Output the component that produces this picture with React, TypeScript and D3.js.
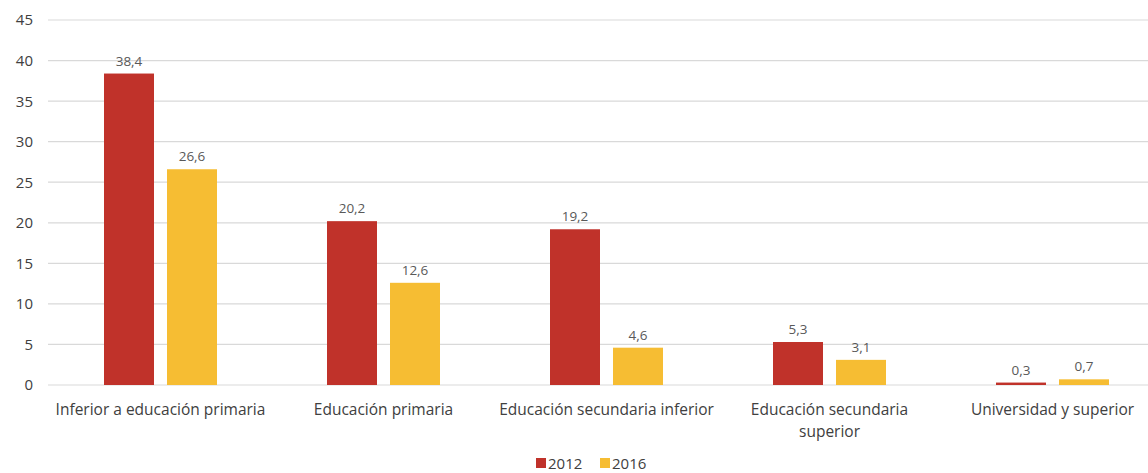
import * as d3 from "d3";
import React, { useEffect, useRef } from "react";

const categories = [
  "Inferior a educación primaria",
  "Educación primaria",
  "Educación secundaria inferior",
  "Educación secundaria superior",
  "Universidad y superior",
];
const seriesNames = ["2012", "2016"];
const values2012 = [38.4, 20.2, 19.2, 5.3, 0.3];
const values2016 = [26.6, 12.6, 4.6, 3.1, 0.7];
const yTicks = [0, 5, 10, 15, 20, 25, 30, 35, 40, 45];
const colors = ["#C0322A", "#F6BD33"];

const W = 1148;
const H = 473;
const FONT = "'Open Sans', 'Liberation Sans', sans-serif";

const App: React.FC = () => {
  const ref = useRef<SVGSVGElement>(null);

  useEffect(() => {
    const svg = d3.select(ref.current);
    svg.selectAll("*").remove();

    const x0 = d3.scaleBand().domain(categories).range([49, 1164]).padding(0);
    const x1 = d3.scaleBand().domain(seriesNames).range([55, 168]).paddingInner(0.2063).paddingOuter(0);
    const y = d3.scaleLinear().domain([0, 45]).range([385, 20]);

    // gridlines
    svg
      .append("g")
      .selectAll("line")
      .data(yTicks)
      .join("line")
      .attr("x1", 48)
      .attr("x2", W)
      .attr("y1", (d) => y(d))
      .attr("y2", (d) => y(d))
      .attr("stroke", "#d9d9d9")
      .attr("stroke-width", 1.2);

    // y labels
    svg
      .append("g")
      .selectAll("text")
      .data(yTicks)
      .join("text")
      .attr("x", 33)
      .attr("y", (d) => y(d))
      .attr("dy", "0.36em")
      .attr("text-anchor", "end")
      .attr("font-family", FONT)
      .attr("font-size", 15)
      .attr("fill", "#404040")
      .text((d) => d);

    const rows = categories.map((c, i) => ({ cat: c, vals: [values2012[i], values2016[i]] }));

    const groups = svg
      .append("g")
      .selectAll("g")
      .data(rows)
      .join("g")
      .attr("transform", (d) => `translate(${x0(d.cat)},0)`);

    groups
      .selectAll("rect")
      .data((d) => d.vals.map((v, j) => ({ v, s: seriesNames[j], j })))
      .join("rect")
      .attr("x", (d) => x1(d.s)!)
      .attr("width", x1.bandwidth())
      .attr("y", (d) => y(d.v))
      .attr("height", (d) => y(0) - y(d.v))
      .attr("fill", (d) => colors[d.j]);

    groups
      .selectAll("text.val")
      .data((d) => d.vals.map((v, j) => ({ v, s: seriesNames[j] })))
      .join("text")
      .attr("class", "val")
      .attr("x", (d) => x1(d.s)! + x1.bandwidth() / 2)
      .attr("y", (d) => y(d.v) - 8)
      .attr("text-anchor", "middle")
      .attr("font-family", FONT)
      .attr("font-size", 13.5)
      .attr("fill", "#595959")
      .text((d) => d3.format(".1f")(d.v).replace(".", ","));

    // category labels
    const catLines: Record<string, string[]> = {
      "Educación secundaria superior": ["Educación secundaria", "superior"],
    };
    svg
      .append("g")
      .selectAll("text")
      .data(categories)
      .join("text")
      .attr("x", (d) => x0(d)! + x0.bandwidth() / 2)
      .attr("y", 415)
      .attr("text-anchor", "middle")
      .attr("font-family", FONT)
      .attr("font-size", 15.5)
      .attr("fill", "#404040")
      .each(function (d) {
        const lines = catLines[d] || [d];
        const t = d3.select(this);
        lines.forEach((l, i) => {
          t.append("tspan")
            .attr("x", x0(d)! + x0.bandwidth() / 2)
            .attr("dy", i === 0 ? 0 : 22)
            .text(l);
        });
      });

    // legend
    const legend = svg.append("g");
    const legendX = [536, 600];
    seriesNames.forEach((s, i) => {
      legend
        .append("rect")
        .attr("x", legendX[i])
        .attr("y", 458)
        .attr("width", 10)
        .attr("height", 10)
        .attr("fill", colors[i]);
      legend
        .append("text")
        .attr("x", legendX[i] + 12)
        .attr("y", 469)
        .attr("font-family", FONT)
        .attr("font-size", 15)
        .attr("fill", "#404040")
        .text(s);
    });
  }, []);

  return (
    <svg
      ref={ref}
      width={W}
      height={H}
      style={{ position: "fixed", top: 0, left: 0, display: "block", background: "#fff" }}
    ></svg>
  );
};

export default App;
